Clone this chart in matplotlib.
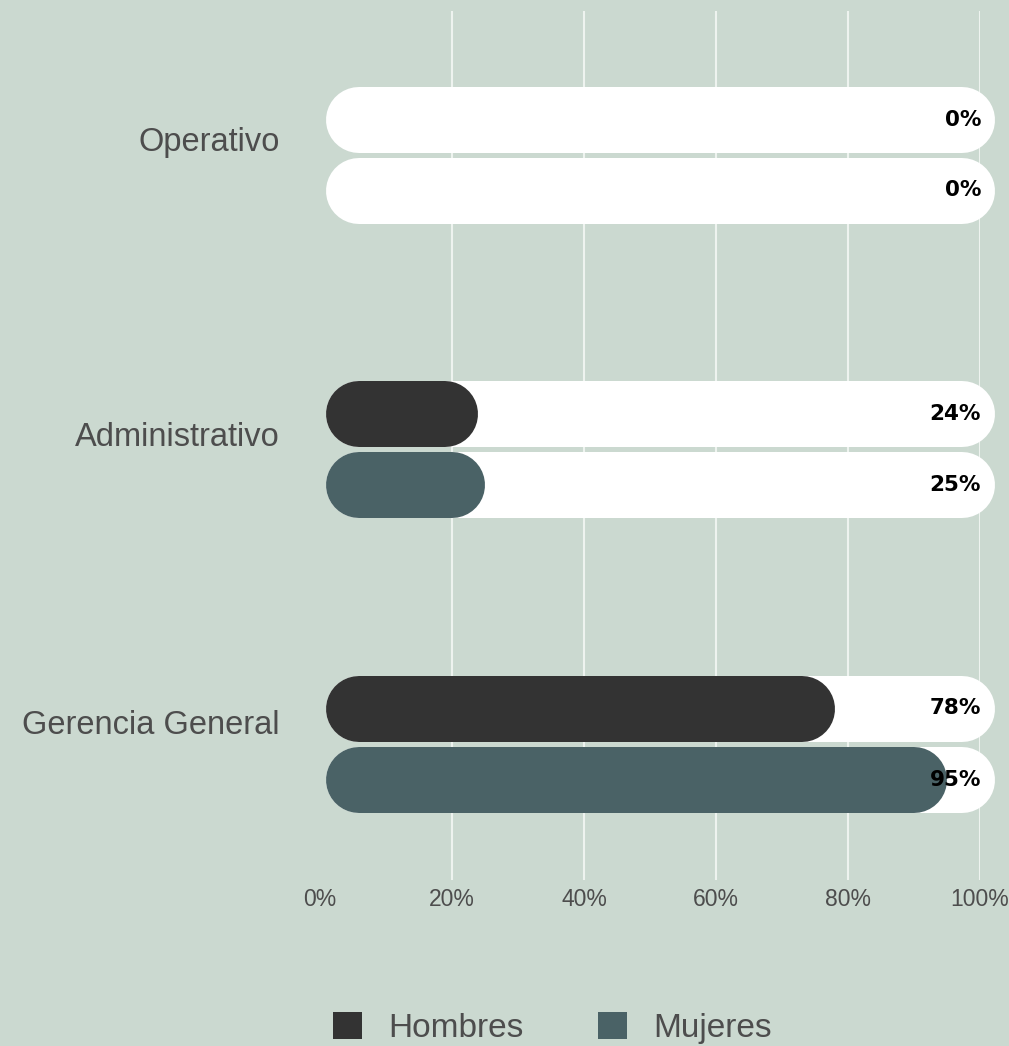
import matplotlib
matplotlib.use("Agg")
import matplotlib.pyplot as plt
from matplotlib.patches import Patch

# ---- data ----
categories = ["Operativo", "Administrativo", "Gerencia General"]
hombres = [0, 24, 78]
mujeres = [0, 25, 95]
series_names = ["Hombres", "Mujeres"]
tick_values = [0, 20, 40, 60, 80, 100]
tick_labels = ["0%", "20%", "40%", "60%", "80%", "100%"]

# ---- style ----
BG = "#CBD9D0"
DARK = "#333333"
TEAL = "#4A6266"
TRACK = "#FFFFFF"
TXT = "#4D4D4D"
GRID = "#EEF3EF"
FONT = "Liberation Sans"

W, H, DPI = 1009, 1046, 100
fig = plt.figure(figsize=(W / DPI, H / DPI), dpi=DPI, facecolor=BG)

ax_left, ax_right = 320, 980
ax_top, ax_bottom = 11, 880
ax = fig.add_axes([ax_left / W, 1 - ax_bottom / H, (ax_right - ax_left) / W, (ax_bottom - ax_top) / H])
ax.set_facecolor(BG)

px_per_unit = (ax_right - ax_left) / 100.0
bar_px = 66
lw_pt = bar_px * 72 / DPI
r = (bar_px / 2) / px_per_unit  # cap radius in data units

unit_px = 294.5
ax.set_xlim(0, 100)
ax.set_ylim((ax_bottom - 155) / unit_px, -(155 - ax_top) / unit_px)

offset = 35.5 / unit_px
L_edge = 0.9
R_edge = 102.3

for x in tick_values[1:]:
    ax.axvline(x, color=GRID, lw=1.5, zorder=0)

def rbar(y, x0, x1, color, z):
    a, b = x0 + r, x1 - r
    if b < a:
        b = a
    ax.plot([a, b], [y, y], color=color, lw=lw_pt, solid_capstyle="round",
            clip_on=False, zorder=z)

label_shift = [-3.5, -3.5, -10]
for i, cat in enumerate(categories):
    for j, (vals, col) in enumerate([(hombres, DARK), (mujeres, TEAL)]):
        y = i + (-offset if j == 0 else offset)
        rbar(y, L_edge, R_edge, TRACK, 2)
        v = vals[i]
        if v > 0:
            rbar(y, L_edge, v, col, 3)
        ax.text(100.15, y, f"{v}%", ha="right", va="center", fontsize=15.5,
                fontweight="bold", color="#000000", family="DejaVu Sans", zorder=5)
    ax.text(-40 / px_per_unit, i + label_shift[i] / unit_px, cat, ha="right",
            va="baseline", fontsize=23.5, color=TXT, family=FONT)

ax.set_yticks([])
ax.set_xticks(tick_values)
ax.set_xticklabels(tick_labels, fontsize=16.5, color=TXT, family=FONT)
ax.tick_params(axis="x", length=0, pad=6)
for s in ax.spines.values():
    s.set_visible(False)

handles = [Patch(facecolor=DARK, edgecolor="none"), Patch(facecolor=TEAL, edgecolor="none")]
fig.legend(handles, series_names, loc="center left",
           bbox_to_anchor=(333 / W, 1 - 1028 / H), ncol=2, frameon=False,
           prop={"family": FONT, "size": 24}, labelcolor=TXT,
           handlelength=0.88, handleheight=0.88, handletextpad=0.79,
           columnspacing=2.22, borderpad=0, borderaxespad=0)

fig.savefig("out.png", dpi=DPI, facecolor=BG)
